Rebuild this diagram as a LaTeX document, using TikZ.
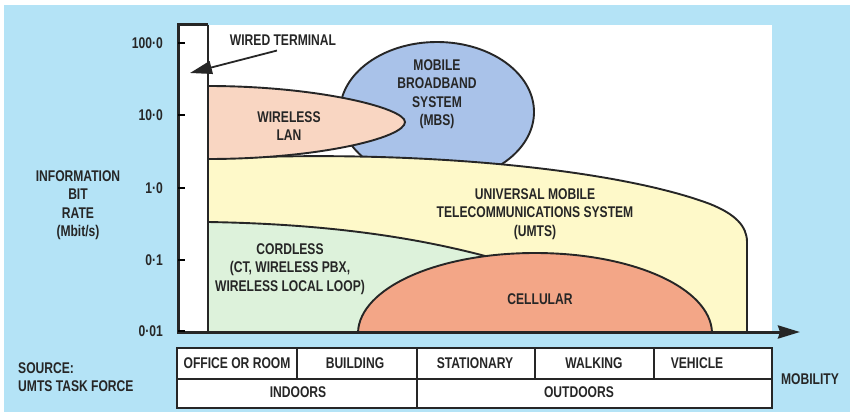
\documentclass[tikz,border=0pt]{standalone}
\usepackage{fontspec}
\setmainfont{Liberation Sans}[FakeStretch=0.78]
\usepackage{tikz}
\usetikzlibrary{arrows.meta}
\definecolor{bgblue}{HTML}{B4E3F6}
\definecolor{mbsblue}{HTML}{A9C2E9}
\definecolor{lanpeach}{HTML}{F9D6C2}
\definecolor{umtsyellow}{HTML}{FEF9C9}
\definecolor{cordgreen}{HTML}{DDF2DB}
\definecolor{cellsalmon}{HTML}{F3A687}

\begin{document}
\begin{tikzpicture}[x=1pt,y=-1pt,
    lbl/.style={font=\fontsize{15.5}{18.5}\selectfont\bfseries, align=center, inner sep=0pt, text=black!85},
    region/.style={draw=black!85, line width=1.9pt},
    wall/.style={draw=black!85, line width=3pt},
    grid/.style={draw=black!85, line width=2pt}]
    % Background
    \useasboundingbox (0,0) rectangle (850,412);
    \fill[bgblue] (4,5) rectangle (850,412);
    \fill[white] (178,25) rectangle (772,332);

    % Service areas
    \draw[region,fill=mbsblue] (437,112) ellipse [x radius=97, y radius=70];
    \draw[region,fill=umtsyellow] (208,332) -- (208,159)
        .. controls (420,148) and (620,170) .. (710,204)
        .. controls (735,214) and (747,226) .. (747,242) -- (747,332);
    \draw[region,fill=cordgreen] (208,332) -- (208,222)
        .. controls (330,224) and (430,238) .. (520,266) -- (520,332);
    \draw[region,fill=cellsalmon] (358,332)
        .. controls (360,288) and (437,253) .. (535,253)
        .. controls (633,253) and (710,288) .. (712,332);
    \draw[region,fill=lanpeach] (208,86)
        .. controls (317,86) and (405,108) .. (405,122)
        .. controls (405,138) and (317,159) .. (208,159);

    % Wired terminal bar and axes
    \draw[region] (208,25) -- (208,332);
    \draw[wall] (178,332) -- (178,25) -- (208,25);
    \draw[wall,-{Stealth[length=22pt,width=13pt,inset=2pt]}] (177,332) -- (800,332);
    \foreach \y/\t [count=\i] in {43/100·0, 115/10·0, 188/1·0, 260/0·1, 331/0·01} {
        \draw[line width=1.5pt] (178,\y) -- (185,\y);
        \node[lbl,anchor=east] (tick\i) at (163,\y) {\t};
    }
    \node[lbl] (ratelbl) at (78,205) {INFORMATION\\BIT\\RATE\\(Mbit/s)};

    % Labels
    \node[lbl] (wired) at (283,40) {WIRED TERMINAL};
    \coordinate (wiretip) at (190,73);
    \draw[line width=1.8pt,black!85,-{Triangle[length=22pt,width=13pt]}]
        ([shift={(-6,5)}]wired.south) -- (wiretip);
    \node[lbl] (lan) at (289,126) {WIRELESS\\LAN};
    \node[lbl] (mbs) at (437,94) {MOBILE\\BROADBAND\\SYSTEM\\(MBS)};
    \node[lbl] (umts) at (535,214) {UNIVERSAL MOBILE\\TELECOMMUNICATIONS SYSTEM\\(UMTS)};
    \node[lbl] (cordless) at (290,269) {CORDLESS\\(CT, WIRELESS PBX,\\WIRELESS LOCAL LOOP)};
    \node[lbl] (cellular) at (540,299) {CELLULAR};

    % Mobility table
    \draw[grid,fill=white] (177,348) rectangle (772,408);
    \draw[grid] (177,379) -- (772,379);
    \foreach \x in {297,535,654} \draw[grid] (\x,348) -- (\x,379);
    \draw[grid] (417,348) -- (417,408);
    \node[lbl] (office) at (237,363) {OFFICE OR ROOM};
    \node[lbl] (building) at (355,363) {BUILDING};
    \node[lbl] (stationary) at (475,363) {STATIONARY};
    \node[lbl] (walking) at (594,363) {WALKING};
    \node[lbl] (vehicle) at (697,363) {VEHICLE};
    \node[lbl] (indoors) at (298,392) {INDOORS};
    \node[lbl] (outdoors) at (579,392) {OUTDOORS};
    \node[lbl] (mobility) at (810,379) {MOBILITY};
    \node[lbl,align=left,anchor=west] (source) at (18,377) {SOURCE:\\UMTS TASK FORCE};
\end{tikzpicture}
\end{document}
